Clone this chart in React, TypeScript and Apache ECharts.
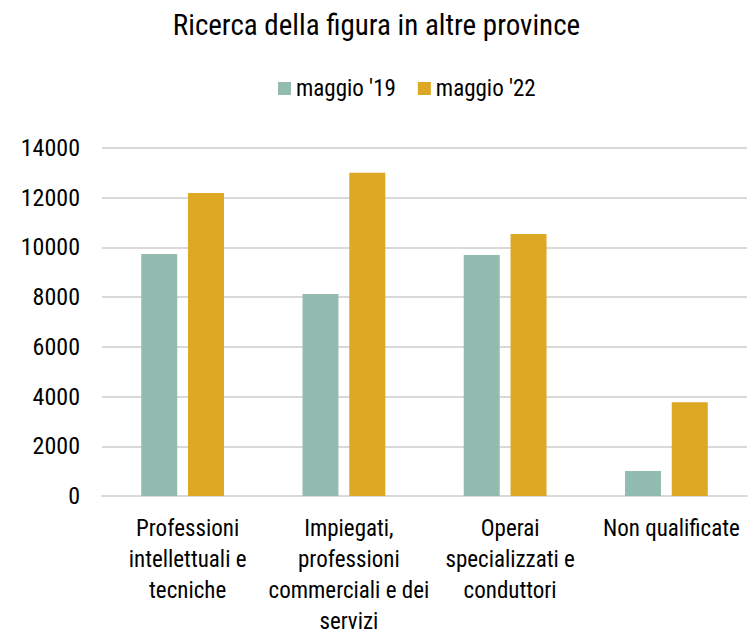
import React, { useEffect, useRef } from "react";
import * as echarts from "echarts";

const categories = [
  "Professioni\nintellettuali e\ntecniche",
  "Impiegati,\nprofessioni\ncommerciali e dei\nservizi",
  "Operai\nspecializzati e\nconduttori",
  "Non qualificate",
];
const series19 = [9740, 8130, 9700, 1006];
const series22 = [12190, 13000, 10540, 3770];
const yTicks = { min: 0, max: 14000, interval: 2000 };
const FONT = "'Roboto Condensed', 'Liberation Sans Narrow', 'Arial Narrow', sans-serif";

export default function App() {
  const ref = useRef<HTMLDivElement>(null);
  useEffect(() => {
    document.body.style.margin = "0";
    const chart = echarts.init(ref.current!, null, { renderer: "svg" });
    chart.setOption({
      animation: false,
      title: {
        text: "Ricerca della figura in altre province",
        left: "center",
        top: 5,
        textStyle: { fontFamily: FONT, fontSize: 29, fontWeight: "normal", color: "#000" },
      },
      legend: {
        top: 72,
        left: 273,
        itemWidth: 13,
        itemHeight: 13,
        itemGap: 22,
        icon: "rect",
        textStyle: { fontFamily: FONT, fontSize: 23, color: "#000" },
        data: ["maggio '19", "maggio '22"],
      },
      grid: {
        left: 102,
        right: 6,
        top: 148,
        bottom: 141,
        containLabel: false,
        outerBoundsMode: "none",
      },
      xAxis: {
        type: "category",
        data: categories,
        axisTick: { show: false },
        axisLine: { lineStyle: { color: "#d9d9d9", width: 2 } },
        axisLabel: {
          interval: 0,
          margin: 17,
          fontFamily: FONT,
          fontSize: 23,
          lineHeight: 31,
          color: "#000",
          padding: [0, 0, 0, 10],
        },
      },
      yAxis: {
        type: "value",
        min: yTicks.min,
        max: yTicks.max,
        interval: yTicks.interval,
        axisLine: { show: false },
        axisTick: { show: false },
        splitLine: { lineStyle: { color: "#d9d9d9", width: 2 } },
        axisLabel: {
          margin: 22,
          fontFamily: FONT,
          fontSize: 24,
          color: "#000",
          formatter: (v: number) => String(v),
        },
      },
      series: [
        {
          name: "maggio '19",
          type: "bar",
          data: series19,
          barWidth: 36,
          barGap: "30%",
          itemStyle: { color: "#93bcb1" },
        },
        {
          name: "maggio '22",
          type: "bar",
          data: series22,
          barWidth: 36,
          barGap: "30%",
          itemStyle: { color: "#dda925" },
        },
      ],
    });
    return () => chart.dispose();
  }, []);
  return <div ref={ref} style={{ width: 753, height: 637 }} />;
}
